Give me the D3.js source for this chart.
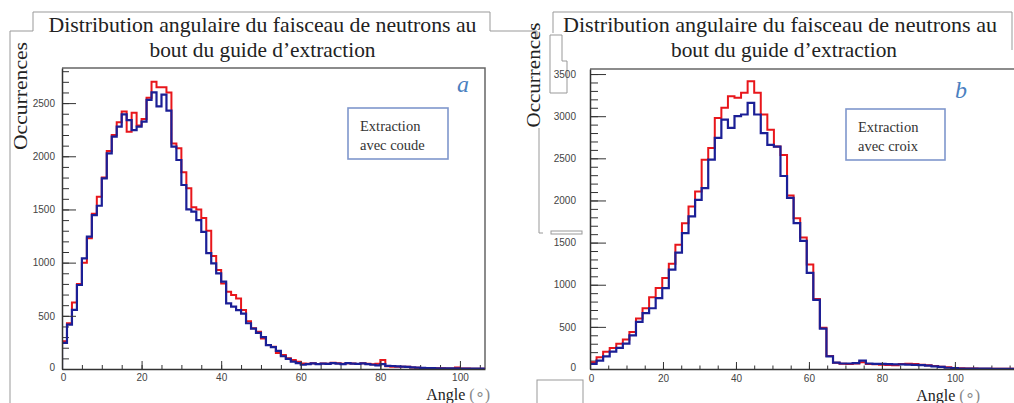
<!DOCTYPE html>
<html>
<head>
<meta charset="utf-8">
<script src="https://cdn.jsdelivr.net/npm/d3@7"></script>
<style>
  body { margin: 0; background: #fff; }
  .tick text { font-family: "Liberation Sans", Arial, sans-serif; font-size: 10px; fill: #444; }
  .serif { font-family: "Liberation Serif", "Times New Roman", serif; }
</style>
</head>
<body>
<svg id="chart" width="1014" height="403"></svg>
<script>
// bin contents (counts per bin)
// panel a: bins of 1.25 deg starting at 0
var binWidthA = 1.25;
var redA = [260,430,625,800,1000,1230,1460,1620,1800,2050,
  2200,2320,2420,2230,2410,2290,2350,2550,2700,2650,
  2650,2600,2120,2076,1850,1700,1520,1500,1420,1300,
  1062,930,805,727,695,664,554,450,382,350,
  287,225,209,150,131,100,84,68,52,50,
  55,48,52,50,58,55,50,55,52,48,
  55,50,45,50,84,25,22,20,22,20,
  15,12,10,8,8,6,6,5,5,15,
  4,4,3,3,3];
var blueA = [245,418,555,790,1040,1244,1447,1535,1792,2027,
  2184,2278,2394,2340,2246,2278,2325,2530,2600,2470,
  2580,2430,2090,1965,1730,1500,1480,1400,1290,1090,
  993,899,821,617,586,554,520,430,380,340,
  300,225,205,170,120,95,70,55,40,45,
  52,45,50,48,55,50,45,55,50,48,
  52,45,40,35,45,30,28,25,22,20,
  15,12,10,8,8,6,6,5,5,5,
  4,4,3,3,3];

// panel b: bins of 1.8 deg starting at 0
var binWidthB = 1.8;
var redB = [80,140,206,250,300,350,440,600,720,850,
  960,1080,1250,1474,1731,1929,2107,2484,2623,2980,
  3099,3237,3218,3277,3416,3277,3020,2840,2640,2540,
  2060,1790,1560,1240,830,490,155,75,62,60,
  65,80,60,55,50,48,45,60,62,58,
  50,45,35,28,20,12,8,6,5,4,
  4,3,3,2,2,2];
var blueB = [60,100,150,206,250,300,400,560,662,721,
  840,959,1180,1380,1612,1810,2008,2147,2484,2742,
  2960,2861,3000,3020,3158,3020,2800,2660,2640,2290,
  2030,1730,1520,1140,820,480,150,75,65,65,
  70,100,65,60,60,58,55,55,52,50,
  45,40,30,25,15,10,6,5,5,4,
  4,3,3,2,2,2];

var xTicks = [0, 20, 40, 60, 80, 100];
var yTicksA = [0, 500, 1000, 1500, 2000, 2500];
var yTicksB = [0, 500, 1000, 1500, 2000, 2500, 3000, 3500];
var titleLines = ["Distribution angulaire du faisceau de neutrons au", "bout du guide d\u2019extraction"];

var svg = d3.select("#chart");
var fmt = d3.format("d");

function drawPanel(p) {
  var x = d3.scaleLinear().domain([0, p.xMax]).range([p.left, p.right]);
  var y = d3.scaleLinear().domain([0, p.yMax]).range([p.bottom, p.top]);

  svg.append("clipPath").attr("id", "clip-" + p.name)
    .append("rect")
    .attr("x", p.left).attr("y", p.top - 2)
    .attr("width", p.right - p.left).attr("height", p.bottom - p.top + 2);

  // frame top / right
  var fr = "M" + p.left + "," + p.top + "H" + p.right;
  if (p.rightFrame) fr += "V" + p.bottom;
  svg.append("path").attr("d", fr).attr("fill", "none")
    .attr("stroke", "#666").attr("stroke-width", 1.5);

  // minor ticks (inside the frame)
  var xMinor = d3.range(0, p.xMax, 5);
  svg.append("g").attr("transform", "translate(0," + p.bottom + ")")
    .call(d3.axisBottom(x).tickValues(xMinor).tickSize(-p.xMinorLen).tickFormat(""))
    .call(g => g.select(".domain").remove())
    .selectAll("line").attr("stroke", "#333");
  var yMinor = d3.range(0, p.yMax, 100);
  svg.append("g").attr("transform", "translate(" + p.left + ",0)")
    .call(d3.axisLeft(y).tickValues(yMinor).tickSize(-p.yMinorLen).tickFormat(""))
    .call(g => g.select(".domain").remove())
    .selectAll("line").attr("stroke", "#333");

  // histograms
  var line = d3.line().x(d => x(d[0])).y(d => y(d[1])).curve(d3.curveStepAfter);
  function steps(vals, w) {
    var pts = [[0, 0]];
    vals.forEach(function(v, i) { pts.push([i * w, v]); });
    pts.push([vals.length * w, vals[vals.length - 1]]);
    return pts;
  }
  var hg = svg.append("g").attr("clip-path", "url(#clip-" + p.name + ")");
  hg.append("path").attr("d", line(steps(p.red, p.bin)))
    .attr("fill", "none").attr("stroke", "#e8161b").attr("stroke-width", 2);
  hg.append("path").attr("d", line(steps(p.blue, p.bin)))
    .attr("fill", "none").attr("stroke", "#1b1f96").attr("stroke-width", 2.2);

  // major axes
  var xa = svg.append("g").attr("transform", "translate(0," + p.bottom + ")")
    .call(d3.axisBottom(x).tickValues(xTicks).tickFormat(fmt)
      .tickSize(-p.xMajorLen).tickSizeOuter(0).tickPadding(p.xPad));
  xa.select(".domain").attr("stroke", "#333").attr("stroke-width", 1.5);
  xa.selectAll("line").attr("stroke", "#333");
  var ya = svg.append("g").attr("transform", "translate(" + p.left + ",0)")
    .call(d3.axisLeft(y).tickValues(p.yTicks).tickFormat(fmt)
      .tickSize(-p.yMajorLen).tickSizeOuter(0).tickPadding(p.yPad));
  ya.select(".domain").attr("stroke", "#333").attr("stroke-width", 1.5);
  ya.selectAll("line").attr("stroke", "#333");
  ya.selectAll(".tick text").filter(d => d === 0).attr("dy", "0.15em");
  xa.selectAll(".tick text").filter(d => d === 0).attr("dx", "0.1em");

  // titles
  var t = svg.append("g").attr("class", "serif");
  titleLines.forEach(function(s, i) {
    t.append("text").attr("x", p.title[i][0]).attr("y", p.title[i][1])
      .attr("text-anchor", "middle").attr("font-size", 21).attr("fill", "#222")
      .attr("textLength", p.title[i][2]).attr("lengthAdjust", "spacingAndGlyphs")
      .text(s);
  });

  // y label
  svg.append("text").attr("class", "serif")
    .attr("transform", "translate(" + p.yLab[0] + "," + p.yLab[1] + ") rotate(-90)")
    .attr("text-anchor", "middle").attr("font-size", 19).attr("fill", "#222")
    .attr("textLength", p.yLab[2]).attr("lengthAdjust", "spacingAndGlyphs")
    .text("Occurrences");

  // x label
  var xl = svg.append("text").attr("class", "serif")
    .attr("x", p.xLab[0]).attr("y", p.xLab[1])
    .attr("text-anchor", "end").attr("font-size", 16).attr("fill", "#222");
  xl.append("tspan").text("Angle ");
  xl.append("tspan").attr("fill", "#888").text("(\u2218)");

  // panel letter
  svg.append("text").attr("class", "serif")
    .attr("x", p.letter[0]).attr("y", p.letter[1])
    .attr("font-size", 24).attr("font-style", "italic").attr("fill", "#4a7fc0")
    .text(p.name);

  // legend box
  svg.append("rect").attr("x", p.box[0]).attr("y", p.box[1])
    .attr("width", p.box[2]).attr("height", p.box[3])
    .attr("fill", "#fff").attr("stroke", "#7f97cc").attr("stroke-width", 1.6);
  p.boxText.forEach(function(s, i) {
    svg.append("text").attr("class", "serif")
      .attr("x", p.box[0] + 12).attr("y", p.box[1] + 23 + i * 19)
      .attr("font-size", 14.5).attr("fill", "#333").text(s);
  });
}

// page furniture (frames left over around the two figures)
svg.append("path")
  .attr("d", "M10,403V31H33V12H490V31H537V37")
  .attr("fill", "none").attr("stroke", "#999").attr("stroke-width", 1);
svg.append("path")
  .attr("d", "M553,33V12H1012V50 M550,35H562V61H567V93H550Z M539,128V233H543")
  .attr("fill", "none").attr("stroke", "#999").attr("stroke-width", 1);
svg.append("rect").attr("x", 551).attr("y", 231).attr("width", 31).attr("height", 3)
  .attr("fill", "none").attr("stroke", "#999").attr("stroke-width", 1);
svg.append("rect").attr("x", 537).attr("y", 380).attr("width", 46).attr("height", 30)
  .attr("fill", "none").attr("stroke", "#999").attr("stroke-width", 1);

drawPanel({
  name: "a", red: redA, blue: blueA, bin: binWidthA,
  xMax: 106.3, yMax: 2830, yTicks: yTicksA,
  left: 62, right: 485, top: 68, bottom: 369, rightFrame: true,
  xMajorLen: 8, xMinorLen: 4, yMajorLen: 14, yMinorLen: 7, xPad: 5, yPad: 7,
  title: [[262.5, 32, 428], [262.5, 57, 226]],
  yLab: [27, 96, 108], xLab: [490, 400], letter: [457, 92],
  box: [348, 108, 100, 51], boxText: ["Extraction", "avec coude"]
});

drawPanel({
  name: "b", red: redB, blue: blueB, bin: binWidthB,
  xMax: 116.2, yMax: 3560, yTicks: yTicksB,
  left: 590, right: 1014, top: 69, bottom: 369, rightFrame: false,
  xMajorLen: 7, xMinorLen: 3.5, yMajorLen: 16, yMinorLen: 8, xPad: 6, yPad: 14,
  title: [[780, 32, 434], [784, 57, 226]],
  yLab: [540, 75, 105], xLab: [980, 401], letter: [955, 98],
  box: [846, 109, 99, 51], boxText: ["Extraction", "avec croix"]
});
</script>
</body>
</html>
